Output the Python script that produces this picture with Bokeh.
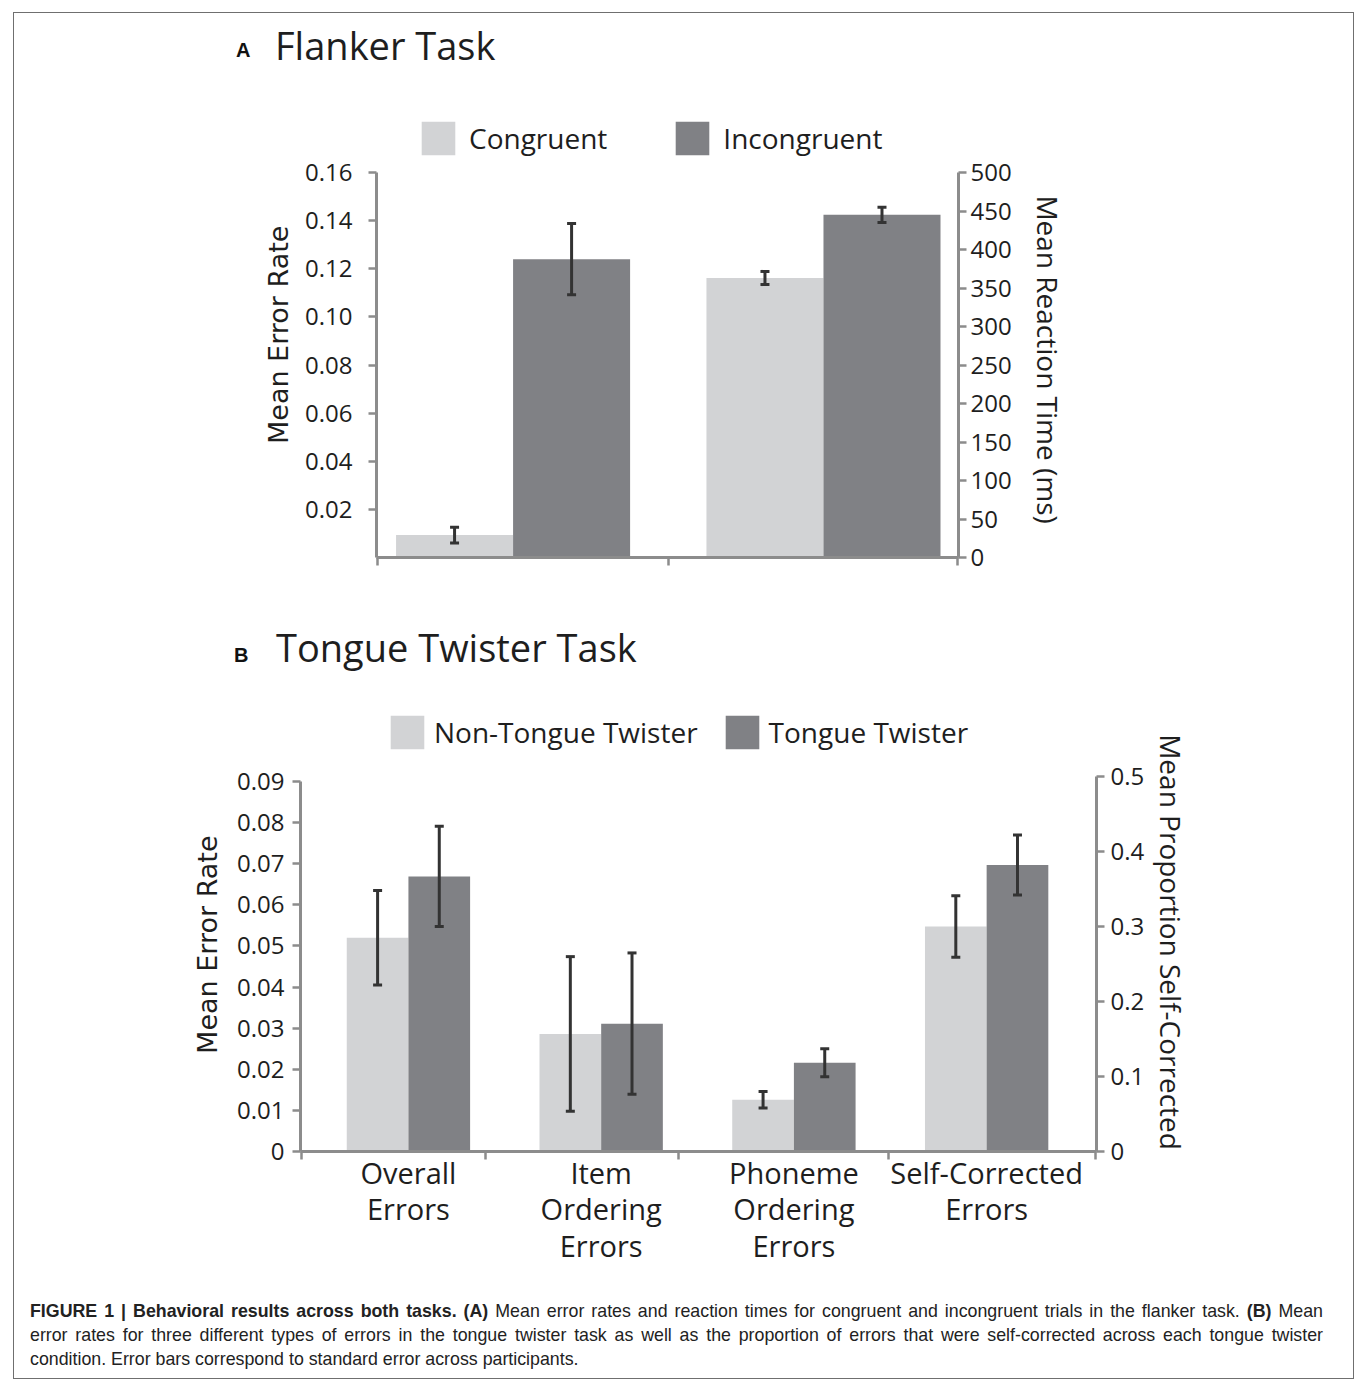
import numpy as np
from bokeh.plotting import figure
from bokeh.models import (ColumnDataSource, Range1d, LinearAxis, FixedTicker, Whisker, TeeHead,
                          Legend, LegendItem, Div, CustomJSTickFormatter)
from bokeh.layouts import column
from bokeh.embed import file_html
from bokeh.resources import INLINE

# ---------------- data ----------------
# Panel A: Flanker task
flanker_conditions = ["Congruent", "Incongruent"]
flanker_error_rate = [0.0093, 0.124]
flanker_error_se = [0.0033, 0.0148]
flanker_rt = [363, 445]
flanker_rt_se = [8.5, 10.0]
flanker_left_ticks = [0.02, 0.04, 0.06, 0.08, 0.10, 0.12, 0.14, 0.16]
flanker_right_ticks = [0, 50, 100, 150, 200, 250, 300, 350, 400, 450, 500]

# Panel B: Tongue twister task
tt_categories = ["Overall\nErrors", "Item\nOrdering\nErrors", "Phoneme\nOrdering\nErrors",
                 "Self-Corrected\nErrors"]
tt_conditions = ["Non-Tongue Twister", "Tongue Twister"]
non_tt_values = [0.0520, 0.0286, 0.0126, 0.300]
non_tt_se = [0.0115, 0.0188, 0.0020, 0.041]
tt_values = [0.0669, 0.0311, 0.0216, 0.382]
tt_se = [0.0122, 0.0172, 0.0034, 0.040]
tt_left_ticks = [0, 0.01, 0.02, 0.03, 0.04, 0.05, 0.06, 0.07, 0.08, 0.09]
tt_right_ticks = [0, 0.1, 0.2, 0.3, 0.4, 0.5]

# ---------------- style ----------------
LIGHT = "#d2d3d5"
DARK = "#808185"
AXIS = "#8c8c8c"
ERR = "#333333"
TXT = "#1e1e1e"
W = 1339
NB = "\u00a0"


def style_axis(ax, font="Open Sans", size="24px"):
    ax.axis_line_color = AXIS
    ax.axis_line_width = 3
    ax.major_tick_line_color = AXIS
    ax.major_tick_line_width = 2.5
    ax.major_tick_out = 8
    ax.major_tick_in = 0
    ax.minor_tick_line_color = None
    ax.major_label_text_font = font
    ax.major_label_text_font_size = size
    ax.major_label_text_color = TXT
    ax.axis_label_text_color = TXT
    ax.axis_label_text_font_style = "normal"


def add_whiskers(p, x, vals, se, y_range_name="default"):
    src = ColumnDataSource(dict(base=list(x),
                                upper=[v + s for v, s in zip(vals, se)],
                                lower=[v - s for v, s in zip(vals, se)]))
    w = Whisker(source=src, base="base", upper="upper", lower="lower", dimension="height",
                line_color=ERR, line_width=3, level="annotation",
                upper_head=TeeHead(size=9, line_color=ERR, line_width=3),
                lower_head=TeeHead(size=9, line_color=ERR, line_width=3),
                y_range_name=y_range_name)
    p.add_layout(w)


def title_div(letter, title, letter_left, letter_top, title_left, title_top, height):
    html = (
        f"<div style=\"position:relative;width:{W}px;height:{height}px;\">"
        f"<span style=\"position:absolute;left:{letter_left}px;top:{letter_top}px;"
        f"font-family:'Liberation Sans',Arial,sans-serif;font-weight:bold;font-size:20px;"
        f"line-height:22.3px;color:#111;white-space:nowrap;\">{letter}</span>"
        f"<span style=\"position:absolute;left:{title_left}px;top:{title_top}px;"
        f"font-family:'Open Sans',sans-serif;font-size:38px;line-height:51.8px;"
        f"color:{TXT};white-space:nowrap;\">{title}</span></div>"
    )
    return Div(text=html, width=W, height=height, margin=0)


# ================= Panel A =================
# the plot frame also covers the legend area; axes are bounded to the data region
HA, A_BOTTOM, A_DATA_H = 510, 56, 385
A_FRAME_H = HA - A_BOTTOM
bwA = 0.377
pA = figure(width=W, height=HA, x_range=Range1d(-0.44, 1.435),
            y_range=Range1d(0, 0.16 * A_FRAME_H / A_DATA_H),
            output_backend="svg", toolbar_location=None,
            min_border_left=362, min_border_right=395, min_border_top=0, min_border_bottom=A_BOTTOM,
            outline_line_color=None, margin=0)
pA.extra_y_ranges = {"rt": Range1d(0, 500 * A_FRAME_H / A_DATA_H)}
pA.xgrid.visible = False
pA.ygrid.visible = False

dodgeA = [-bwA / 2, bwA / 2]
colorsA = [LIGHT, DARK]
legend_rA = []
for i, cond in enumerate(flanker_conditions):
    r = pA.vbar(x=[0 + dodgeA[i]], top=[flanker_error_rate[i]], width=bwA,
                fill_color=colorsA[i], line_color=None)
    pA.vbar(x=[1 + dodgeA[i]], top=[flanker_rt[i]], width=bwA,
            fill_color=colorsA[i], line_color=None, y_range_name="rt")
    legend_rA.append(r)
add_whiskers(pA, [0 + d for d in dodgeA], flanker_error_rate, flanker_error_se)
add_whiskers(pA, [1 + d for d in dodgeA], flanker_rt, flanker_rt_se, "rt")

ax = pA.yaxis[0]
style_axis(ax)
ax.bounds = (0, 0.16)
ax.ticker = FixedTicker(ticks=flanker_left_ticks)
ax.formatter = CustomJSTickFormatter(code="return tick.toFixed(2)")
ax.major_label_standoff = 16
ax.axis_label = "Mean Error Rate" + NB
ax.axis_label_text_font = "DejaVu Sans"
ax.axis_label_text_font_size = "27px"
ax.axis_label_standoff = 8

axr = LinearAxis(y_range_name="rt", ticker=FixedTicker(ticks=flanker_right_ticks), bounds=(0, 500))
style_axis(axr)
axr.major_label_standoff = 4
axr.axis_label = NB * 8 + "Mean Reaction Time (ms)"
axr.axis_label_text_font = "Open Sans"
axr.axis_label_text_font_size = "28px"
axr.axis_label_standoff = 14
pA.add_layout(axr, "right")

axb = pA.xaxis[0]
style_axis(axb)
axb.ticker = FixedTicker(ticks=[-0.438, 0.5, 1.433])
axb.formatter = CustomJSTickFormatter(code="return ''")

legA = Legend(items=[LegendItem(label=c, renderers=[r]) for c, r in zip(flanker_conditions, legend_rA)],
              orientation="horizontal", location=(41, 398), padding=0, margin=0, spacing=64,
              glyph_width=42, glyph_height=42, label_standoff=10,
              label_text_font="Open Sans", label_text_font_size="28px", label_text_color=TXT,
              background_fill_alpha=0, border_line_alpha=0)
pA.add_layout(legA)

divA = title_div("A", "Flanker Task", 222, 26, 261, 7, 90)

# ================= Panel B =================
HB, B_BOTTOM = 577, 129
B_FRAME_H = HB - B_BOTTOM
B_LEFT_H, B_RIGHT_H = 370, 375
bwB = 0.32
pB = figure(width=W, height=HB, x_range=Range1d(-0.56, 3.57),
            y_range=Range1d(0, 0.09 * B_FRAME_H / B_LEFT_H),
            output_backend="svg", toolbar_location=None,
            min_border_left=286, min_border_right=257, min_border_top=0, min_border_bottom=B_BOTTOM,
            outline_line_color=None, margin=0)
pB.extra_y_ranges = {"prop": Range1d(0, 0.5 * B_FRAME_H / B_RIGHT_H)}
pB.xgrid.visible = False
pB.ygrid.visible = False

xB = np.arange(len(tt_categories))
n_err = 3  # first three categories are error rates (left axis), last is a proportion (right axis)
seriesB = [(non_tt_values, non_tt_se, LIGHT, -bwB / 2), (tt_values, tt_se, DARK, bwB / 2)]
legend_rB = []
for vals, se, col, d in seriesB:
    r = pB.vbar(x=list(xB[:n_err] + d), top=vals[:n_err], width=bwB, fill_color=col, line_color=None)
    pB.vbar(x=list(xB[n_err:] + d), top=vals[n_err:], width=bwB, fill_color=col, line_color=None,
            y_range_name="prop")
    add_whiskers(pB, list(xB[:n_err] + d), vals[:n_err], se[:n_err])
    add_whiskers(pB, list(xB[n_err:] + d), vals[n_err:], se[n_err:], "prop")
    legend_rB.append(r)

ay = pB.yaxis[0]
style_axis(ay)
ay.bounds = (0, 0.09)
ay.ticker = FixedTicker(ticks=tt_left_ticks)
ay.formatter = CustomJSTickFormatter(code="return tick == 0 ? '0' : tick.toFixed(2)")
ay.major_label_standoff = 8
ay.axis_label = "Mean Error Rate" + NB * 4
ay.axis_label_text_font = "DejaVu Sans"
ay.axis_label_text_font_size = "27px"
ay.axis_label_standoff = 11

ayr = LinearAxis(y_range_name="prop", ticker=FixedTicker(ticks=tt_right_ticks), bounds=(0, 0.5))
style_axis(ayr)
ayr.formatter = CustomJSTickFormatter(code="return tick == 0 ? '0' : tick.toFixed(1)")
ayr.major_label_standoff = 6
ayr.axis_label = NB * 4 + "Mean Proportion Self-Corrected"
ayr.axis_label_text_font = "Open Sans"
ayr.axis_label_text_font_size = "28px"
ayr.axis_label_standoff = 5
pB.add_layout(ayr, "right")

axB = pB.xaxis[0]
style_axis(axB, size="29px")
axB.ticker = FixedTicker(ticks=list(xB), minor_ticks=[-0.555, 0.40, 1.40, 2.49, 3.565])
axB.formatter = CustomJSTickFormatter(args=dict(labels=tt_categories),
                                      code="return labels[Math.round(tick)]")
axB.major_tick_line_color = None
axB.major_tick_out = 0
axB.minor_tick_line_color = AXIS
axB.minor_tick_line_width = 2.5
axB.minor_tick_out = 8
axB.minor_tick_in = 0
axB.major_label_standoff = -7
axB.major_label_text_line_height = 0.94

legB = Legend(items=[LegendItem(label=c, renderers=[r]) for c, r in zip(tt_conditions, legend_rB)],
              orientation="horizontal", location=(86, 398), padding=0, margin=0, spacing=23,
              glyph_width=42, glyph_height=42, label_standoff=6,
              label_text_font="Open Sans", label_text_font_size="28px", label_text_color=TXT,
              background_fill_alpha=0, border_line_alpha=0)
pB.add_layout(legB)

divB = title_div("B", "Tongue Twister Task", 220, 31, 262, 9, 90)

# ================= Caption =================
line_style = "white-space:nowrap;text-align:justify;text-align-last:justify;"
caption_html = (
    "<div style=\"font-family:'Liberation Sans',Arial,sans-serif;font-size:17.8px;line-height:24px;"
    "color:#222;padding:19px 0 0 16px;width:1309px;\">"
    f"<div style=\"{line_style}\"><b>FIGURE 1 | Behavioral results across both tasks. (A)</b> Mean error rates "
    "and reaction times for congruent and incongruent trials in the flanker task. <b>(B)</b> Mean</div>"
    f"<div style=\"{line_style}\">error rates for three different types of errors in the tongue twister task as "
    "well as the proportion of errors that were self-corrected across each tongue twister</div>"
    "<div style=\"white-space:nowrap;\">condition. Error bars correspond to standard error across participants.</div>"
    "</div>"
)
caption = Div(text=caption_html, width=W, height=98, margin=0)

layout = column(divA, column(pA), divB, column(pB), caption, width=W + 2, spacing=0,
                styles={"border": "1px solid #6f6f6f"}, margin=(12, 0, 0, 13))

with open("out.html", "w") as f:
    f.write(file_html(layout, INLINE))
